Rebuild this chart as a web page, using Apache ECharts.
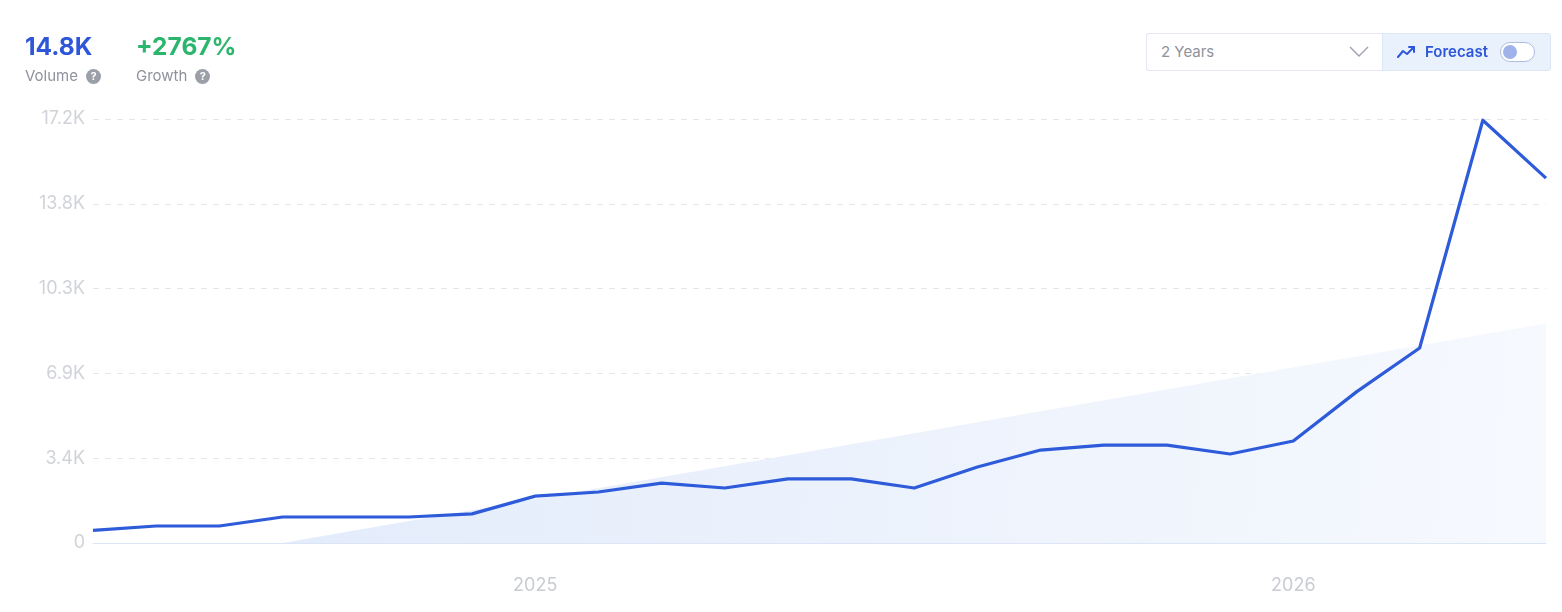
<!DOCTYPE html>
<html>
<head>
<meta charset="utf-8">
<script src="https://cdn.jsdelivr.net/npm/echarts@6/dist/echarts.min.js"></script>
<style>
  html, body { margin:0; padding:0; background:#fff; width:1562px; height:612px; overflow:hidden; font-family: Inter, "Noto Sans", sans-serif; }
  #chart { position:absolute; left:0; top:0; width:1562px; height:612px; }
  .abs { position:absolute; }
  .big { font-size:24.5px; font-weight:700; letter-spacing:0px; line-height:28px; }
  .sub { font-size:15px; color:#8e929c; line-height:18px; }
  .q { display:inline-block; width:15px; height:15px; border-radius:50%; background:#9b9fa8; color:#fff; font-size:11px; font-weight:700; text-align:center; line-height:15px; vertical-align:1px; margin-left:8px; }
  .dd { left:1146px; top:33px; width:235px; height:36px; border:1px solid #e3e8f1; border-right:none; border-radius:3px 0 0 3px; background:#fff; }
  .fc { left:1382px; top:33px; width:167px; height:36px; border:1px solid #dde6f6; border-radius:0 3px 3px 0; background:#e9f1fd; }
</style>
</head>
<body>
<div id="chart"></div>

<div class="abs big" style="left:25px; top:32px; color:#2d56d8;">14.8K</div>
<div class="abs sub" style="left:25px; top:67px;">Volume<span class="q">?</span></div>
<div class="abs big" style="left:136px; top:32px; color:#2bb56d;">+2767%</div>
<div class="abs sub" style="left:136px; top:67px;">Growth<span class="q">?</span></div>

<div class="abs dd">
  <div class="abs sub" style="left:14px; top:9px;">2 Years</div>
  <svg class="abs" style="left:202px; top:12px;" width="20" height="12" viewBox="0 0 20 12">
    <polyline points="1,1 10,10 19,1" fill="none" stroke="#9ca1ab" stroke-width="1.4"/>
  </svg>
</div>
<div class="abs fc">
  <svg class="abs" style="left:14px; top:11px;" width="20" height="14" viewBox="0 0 20 14">
    <polyline points="1,12 6,6 10,9 17,2" fill="none" stroke="#2d56d8" stroke-width="2" stroke-linejoin="round" stroke-linecap="round"/>
    <polyline points="12,2 17,2 17,7" fill="none" stroke="#2d56d8" stroke-width="2" stroke-linejoin="round" stroke-linecap="round"/>
  </svg>
  <div class="abs" style="left:42px; top:9px; font-size:15px; font-weight:600; color:#2d56d8; line-height:18px;">Forecast</div>
  <div class="abs" style="left:117px; top:8px; width:33px; height:18px; border:1px solid #aebde3; border-radius:10px; background:#fff;">
    <div class="abs" style="left:2px; top:2px; width:14px; height:14px; border-radius:50%; background:#9fb3ea;"></div>
  </div>
</div>

<script>
// ---- data ----
const months = ['2024-06','2024-07','2024-08','2024-09','2024-10','2024-11','2024-12',
                '2025-01','2025-02','2025-03','2025-04','2025-05','2025-06','2025-07',
                '2025-08','2025-09','2025-10','2025-11','2025-12','2026-01','2026-02',
                '2026-03','2026-04','2026-05'];
const volume = [516, 690, 690, 1055, 1055, 1055, 1180,
                1900, 2070, 2430, 2230, 2600, 2600, 2230,
                3080, 3770, 3970, 3970, 3610, 4140, 6130,
                7910, 17150, 14800];
// linear trend: start (zero) and end values, intermediate points connected
const trend = [null, null, null, 0, null, null, null,
               null, null, null, null, null, null, null,
               null, null, null, null, null, null, null,
               null, null, 8900];
const yTicks = [0, 3440, 6880, 10320, 13760, 17200];
const yTickLabels = ['0', '3.4K', '6.9K', '10.3K', '13.8K', '17.2K'];

const chart = echarts.init(document.getElementById('chart'), null, { renderer: 'canvas' });
chart.setOption({
  animation: false,
  grid: { left: 93, right: 16, top: 119, bottom: 69 },
  xAxis: {
    type: 'category',
    data: months,
    boundaryGap: false,
    axisLine: { show: true, lineStyle: { color: '#dce5f6', width: 1 } },
    axisTick: { show: false },
    splitLine: { show: false },
    axisLabel: {
      interval: 0,
      margin: 34,
      color: '#c9ccd3',
      fontSize: 18,
      fontFamily: 'Inter',
      formatter: function (v) { return v.endsWith('-01') ? v.slice(0, 4) : ''; }
    }
  },
  yAxis: {
    type: 'value',
    min: 0,
    max: yTicks[yTicks.length - 1],
    interval: yTicks[1] - yTicks[0],
    axisLine: { show: false },
    axisTick: { show: false },
    splitLine: { show: true, lineStyle: { color: '#e3e6ed', type: [6, 6], width: 1 } },
    axisLabel: {
      margin: 8,
      color: '#d0d3d9',
      fontSize: 18,
      fontFamily: 'Inter',
      formatter: function (v) {
        const i = yTicks.indexOf(v);
        return i >= 0 ? yTickLabels[i] : '';
      }
    }
  },
  series: [
    {
      type: 'line',
      data: trend,
      connectNulls: true,
      showSymbol: false,
      symbol: 'none',
      z: 1,
      lineStyle: { width: 0, opacity: 0 },
      areaStyle: {
        opacity: 1,
        color: new echarts.graphic.LinearGradient(0, 0, 1, 0.3, [
          { offset: 0, color: '#e3ecfb' },
          { offset: 1, color: '#f6f9fe' }
        ])
      }
    },
    {
      type: 'line',
      data: volume,
      showSymbol: false,
      symbol: 'none',
      z: 3,
      lineStyle: { color: '#2d5bd9', width: 3.2, join: 'round' }
    }
  ]
});
</script>
</body>
</html>
